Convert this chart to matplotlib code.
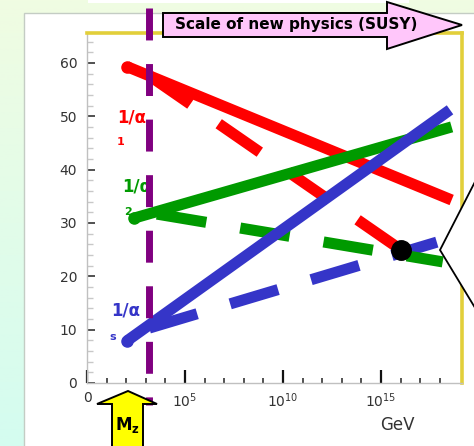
"""
Running couplings 1/alpha_i vs energy scale, SM (solid) and SUSY (dashed)
"""

import matplotlib.pyplot as plt
import numpy as np
from matplotlib.patches import Polygon, Rectangle
from matplotlib.ticker import FixedLocator, NullFormatter

# energy scale in GeV
mu_start = [1.1e2, 2.5e2, 1.1e2]   # near M_Z
mu_susy = 1.5e3                    # scale of new physics
mu_sm_end = [4.0e18, 4.0e18, 3.3e18]
mu_susy_end = [1.0e16, 1.4e18, 7.0e17]

# 1/alpha values (alpha_1, alpha_2, alpha_s)
inv_alpha_mz = [59.3, 30.9, 7.9]
inv_alpha_sm_end = [34.3, 48.0, 51.2]
inv_alpha_susy = [57.6, 31.9, 10.3]
inv_alpha_susy_end = [25.0, 22.7, 26.4]

colors = ["#ff0000", "#009a00", "#3535c8"]
names = ["1", "2", "s"]
label_pos = [(2.0e2, 49.7), (3.5e2, 36.8), (98, 13.5)]
sub_pos = [(54, 45.2), (1.2e2, 32.1), (21, 8.6)]

unification = (1.0e16, 25.0)

xticks = [1, 1e5, 1e10, 1e15]
xtick_labels = ["0", "$10^{5}$", "$10^{10}$", "$10^{15}$"]
yticks = [0, 10, 20, 30, 40, 50, 60]

plt.rcParams["mathtext.fontset"] = "dejavusans"

W, H = 474, 446
fig = plt.figure(figsize=(W / 100, H / 100), dpi=100)

# background: gradient + white panel
bg = fig.add_axes([0, 0, 1, 1], zorder=-2)
grad = np.linspace(0, 1, 256)[:, None]
top = np.array([240, 252, 226]) / 255
bot = np.array([212, 252, 240]) / 255
img = top[None, None, :] * (1 - grad[..., None]) + bot[None, None, :] * grad[..., None]
bg.imshow(img, extent=[0, W, H, 0], aspect="auto")
bg.add_patch(Rectangle((24, 13), W, H, facecolor="white", edgecolor="#c4ccc4", lw=1))
bg.add_patch(Rectangle((88, -2), 321, 5, facecolor="white", edgecolor="none"))
bg.set_xlim(0, W)
bg.set_ylim(H, 0)
bg.axis("off")

ax = fig.add_axes([87 / W, 63 / H, 375 / W, 350 / H])
ax.set_facecolor("white")
ax.set_xscale("log")
ax.set_xlim(1, 10**19.13)
ax.set_ylim(0, 65.6)

lw = 8
z_solid = [3.0, 3.3, 3.4]
z_dash = [3.0, 3.2, 3.1]
dash_offset = [0, 6.9, 0]
for i in range(3):
    ax.plot([mu_start[i], mu_sm_end[i]], [inv_alpha_mz[i], inv_alpha_sm_end[i]],
            color=colors[i], lw=lw, solid_capstyle="butt",
            marker="o", markevery=[0], markersize=lw, zorder=z_solid[i])
    ax.plot([mu_susy, mu_susy_end[i]], [inv_alpha_susy[i], inv_alpha_susy_end[i]],
            color=colors[i], lw=lw, linestyle=(dash_offset[i], (4.5, 3.1)),
            dash_capstyle="butt", zorder=z_dash[i])
    ax.text(*label_pos[i], "1/α", color=colors[i], fontsize=12, fontweight="bold",
            ha="center", va="center", zorder=2)
    ax.text(*sub_pos[i], names[i], color=colors[i], fontsize=8, fontweight="bold",
            ha="center", va="center", zorder=2)

ax.plot(*unification, "o", color="black", markersize=14, zorder=4)

# SUSY scale marker
ax.plot([mu_susy, mu_susy], [1.072, -0.063], transform=ax.get_xaxis_transform(),
        color="#800080", lw=5, dashes=(4.6, 3.4), dash_capstyle="butt",
        clip_on=False, zorder=5)

# axes styling
for s in ["left", "bottom"]:
    ax.spines[s].set_color("#c0c0c0")
    ax.spines[s].set_linewidth(1)
for s in ["top", "right"]:
    ax.spines[s].set_color("#e2cf3a")
    ax.spines[s].set_linewidth(2.6)

ax.set_yticks(yticks)
ax.yaxis.set_minor_locator(FixedLocator(np.arange(0, 66, 2)))
ax.tick_params(axis="y", which="major", direction="in", length=5.8, width=1.2,
               color="#333333", labelcolor="#333333", labelsize=10, pad=7)
ax.tick_params(axis="y", which="minor", direction="in", length=4.5, width=1,
               color="#c8c8c8")

ax.set_xticks(xticks)
ax.set_xticklabels(xtick_labels)
ax.xaxis.set_minor_locator(FixedLocator([10.0**k for k in range(1, 19) if k % 5]))
ax.xaxis.set_minor_formatter(NullFormatter())
ax.tick_params(axis="x", which="major", direction="in", length=9.4, width=1.6,
               color="#111111", labelcolor="#333333", labelsize=10, pad=6)
ax.tick_params(axis="x", which="minor", direction="in", length=3.6, width=1.2,
               color="#333333")
ax.text(0.827, -0.12, "GeV", transform=ax.transAxes, fontsize=12, color="#333333",
        ha="center", va="center")

# overlay: arrows and callout in pixel coordinates
ov = fig.add_axes([0, 0, 1, 1], zorder=10)
ov.set_xlim(0, W)
ov.set_ylim(H, 0)
ov.axis("off")
ov.patch.set_alpha(0)

susy_arrow = [(163, 13), (387, 13), (387, 2), (462, 25), (387, 49), (387, 37), (163, 37)]
ov.add_patch(Polygon(susy_arrow, closed=True, facecolor="#ffc6fa", edgecolor="black", lw=1.4))
ov.text(296, 25, "Scale of new physics (SUSY)", fontsize=11, fontweight="bold",
        ha="center", va="center")

mz_arrow = [(128, 391), (157, 404), (143, 404), (143, 450), (112, 450), (112, 404), (97, 404)]
ov.add_patch(Polygon(mz_arrow, closed=True, facecolor="#ffff00", edgecolor="black", lw=1.4))
ov.text(127, 425, r"$\mathbf{M}_\mathbf{z}$", fontsize=12, ha="center", va="center")

ov.add_patch(Polygon([(480, 172), (440, 250), (480, 316)], closed=False,
                     facecolor="white", edgecolor="black", lw=1.3))

fig.savefig("out.png", dpi=100)
